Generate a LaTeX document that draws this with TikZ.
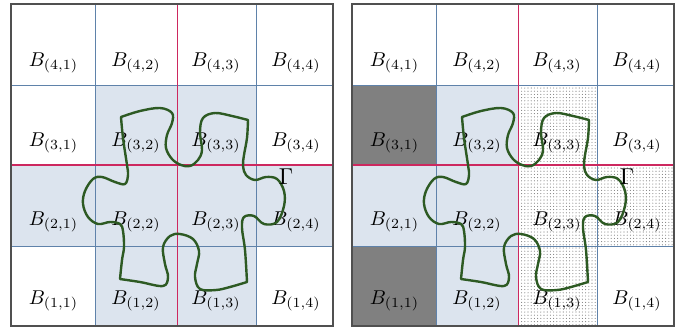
\documentclass[tikz,border=0pt]{standalone}
\usetikzlibrary{patterns.meta}

\definecolor{gridblue}{RGB}{95,130,170}
\definecolor{splitred}{RGB}{205,40,95}
\definecolor{cellblue}{RGB}{220,228,238}
\definecolor{cellgray}{RGB}{128,128,128}
\definecolor{curvegreen}{RGB}{45,90,35}
\definecolor{framegray}{RGB}{80,80,80}

\tikzset{
  gridline/.style={gridblue, line width=0.4pt},
  splitline/.style={splitred, line width=0.75pt},
  boxframe/.style={framegray, line width=0.9pt},
  gammacurve/.style={curvegreen, line width=1.2pt, line join=round},
  dotcell/.style={pattern={Dots[distance=1.6pt, radius=0.28pt]}, pattern color=gray},
}

\begin{document}
\begin{tikzpicture}[x=0.5pt, y=-0.5pt]
    \useasboundingbox (0,0) rectangle (684,328);

    % Fill the cells of the left grid
    \fill[cellblue] (95.7,85) -- (256.7,85) -- (256.7,165) -- (333.3,165) -- (333.3,246)
        -- (256.7,246) -- (256.7,326) -- (95.7,326) -- (95.7,246) -- (11,246)
        -- (11,165) -- (95.7,165) -- cycle;

    % Fill the cells of the right grid
    \begin{scope}[shift={(341,0)}]
        \fill[cellgray] (11,85) rectangle (95.7,165);
        \fill[cellgray] (11,246) rectangle (95.7,326);
        \fill[cellblue] (95.7,85) -- (177.5,85) -- (177.5,326) -- (95.7,326) -- (95.7,246)
            -- (11,246) -- (11,165) -- (95.7,165) -- cycle;
        \fill[dotcell] (177.5,85) -- (256.7,85) -- (256.7,165) -- (333.3,165) -- (333.3,246)
            -- (256.7,246) -- (256.7,326) -- (177.5,326) -- cycle;
    \end{scope}

    \foreach \side/\dx in {L/0, R/341} {
    \begin{scope}[shift={(\dx,0)}, name prefix=\side-]
        % Draw the grid lines
        \foreach \x in {95.7, 256.7}
            \draw[gridline] (\x,4) -- (\x,326);
        \foreach \y in {85, 246}
            \draw[gridline] (11,\y) -- (333.3,\y);
        \draw[splitline] (177.5,4) -- (177.5,326);
        \draw[splitline] (11,165) -- (333.3,165);
        % Draw the outer box
        \draw[boxframe] (11,4) rectangle (333.3,326);

        % Add the B labels
        \foreach \c/\x in {1/53.5, 2/136, 3/216, 4/296}
            \foreach \r/\y in {4/63, 3/143, 2/222, 1/301}
                \node (b\r\c) at (\x,\y) {$B_{(\r,\c)}$};

        % Draw the curve Gamma
        \draw[gammacurve]
            plot[smooth, tension=0.6] coordinates {(121,117) (140,111) (160,108) (172,113) (172,123)
                (167,135) (166,148) (172,159) (181,165) (190,166) (198,160) (202,150) (200,132)
                (203,118) (215,113) (232,116) (248,120)}
            -- plot[smooth, tension=0.6] coordinates {(248,120) (247,138) (244,155) (243,166)
                (246,175) (255,180) (266,177) (277,179) (284,191) (284,206) (277,222) (264,224)
                (254,216) (244,217) (242,228) (245,250) (247,282)}
            -- plot[smooth, tension=0.6] coordinates {(247,282) (230,287) (216,290) (200,289)
                (195,277) (197,264) (199,251) (193,239) (180,234) (170,236) (163,247) (165,264)
                (168,277) (163,286) (140,282) (120,279)}
            -- plot[smooth, tension=0.6] coordinates {(120,279) (122,260) (124,247) (123,231)
                (120,224) (110,222) (98,224) (88,217) (83,204) (85,191) (93,179) (102,177)
                (115,182) (125,184) (128,175) (127,165) (123,138) (121,117)}
            -- cycle;
        \node[scale=1.15] (gam) at (286,177) {$\Gamma$};
    \end{scope}
    }
\end{tikzpicture}
\end{document}
